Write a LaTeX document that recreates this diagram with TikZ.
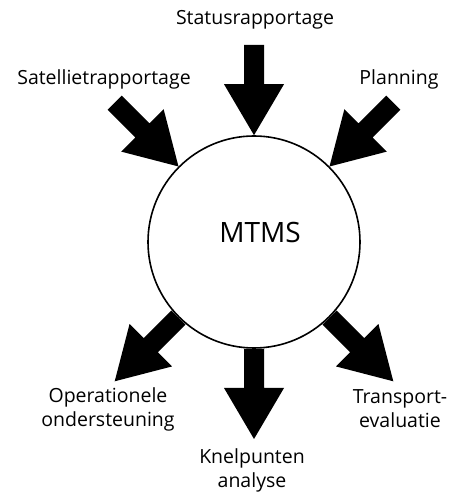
\documentclass[tikz,border=0pt]{standalone}
\usepackage{fontspec}
\setmainfont{Open Sans}
\usetikzlibrary{calc}
\newcommand\blockarr[2]{%
  \coordinate (hd) at ($(#2)!51pt!(#1)$);
  \fill ($(#1)!10pt!90:(#2)$) -- ($(hd)!10pt!90:(#2)$) -- ($(hd)!30pt!90:(#2)$) -- (#2)
     -- ($(hd)!30pt!-90:(#2)$) -- ($(hd)!10pt!-90:(#2)$) -- ($(#1)!10pt!-90:(#2)$) -- cycle;}
\begin{document}
\begin{tikzpicture}[x=1pt,y=1pt,
  lbl/.style={font=\fontsize{19.5}{24}\selectfont, align=center, anchor=base, inner sep=0pt}]
\useasboundingbox (0,0) rectangle (464,495);
\node[circle, draw, line width=1.6pt, minimum size=212pt, inner sep=0pt] (c) at (254,253) {};
\node[font=\fontsize{28}{32}\selectfont, anchor=base, inner sep=0pt] (m) at (260,252) {MTMS};
% labels (anchor=base is the last line's baseline)
\node[lbl] (ls) at (255,470) {Statusrapportage};
\node[lbl] (lsat) at (104,410) {Satellietrapportage};
\node[lbl] (lp) at (399,410) {Planning};
\node[lbl] (lo) at (108,68) {Operationele\\ondersteuning};
\node[lbl] (lk) at (252,7) {Knelpunten\\analyse};
\node[lbl] (lt) at (400,67) {Transport-\\evaluatie};
% arrow ends
\coordinate (tS) at ($(c.center)+(90:197)$);
\coordinate (tSat) at ($(c.center)+(135:197)$);
\coordinate (tP) at ($(c.center)+(45:197)$);
\coordinate (tO) at ($(c.center)+(225:197)$);
\coordinate (tK) at ($(c.center)+(270:197)$);
\coordinate (tT) at ($(c.center)+(315:197)$);
\blockarr{tS}{c.90}
\blockarr{tSat}{c.135}
\blockarr{tP}{c.45}
\blockarr{c.225}{tO}
\blockarr{c.270}{tK}
\blockarr{c.315}{tT}
\end{tikzpicture}
\end{document}
